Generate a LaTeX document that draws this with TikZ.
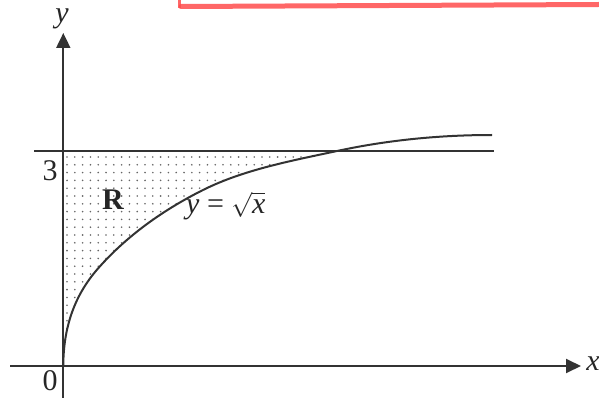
\documentclass[tikz,border=0pt]{standalone}
\usepackage{fontspec}
\setmainfont{Liberation Serif}
\usetikzlibrary{arrows.meta}
\begin{document}
\begin{tikzpicture}[x=1pt,y=-1pt,
  ink/.style={draw=black!80,line width=1.9pt},
  lbl/.style={font=\fontsize{30}{36}\selectfont,inner sep=0pt,text=black!85},
  axisarrow/.style={-{Triangle[length=15pt,width=14pt]}}]
\def\curvepath{(63.3,366) .. controls (63.3,321) and (78.7,291) .. (96.7,270)
  .. controls (125.7,236.5) and (163,210) .. (203,190)
  .. controls (244,169.5) and (292,160.7) .. (337,151)
  .. controls (388,140) and (440,135) .. (492,135)}
\useasboundingbox (0,0) rectangle (599,398);
% red scan stroke
\draw[line width=5pt,draw=red!70!white,opacity=0.85,line cap=round] (181,6.5) -- (599,4.5);
\draw[line width=2.5pt,draw=red!70!white,opacity=0.85] (179.5,0) -- (179.5,8);
% shaded region R
\begin{scope}
  \clip (63.3,150.7) rectangle (337,366);
  \clip \curvepath -- (492,100) -- (63.3,100) -- cycle;
  \foreach \i in {0,...,36} {
    \foreach \j in {0,...,28} {
      \fill[black!60] (67+\i*7.8,157+\j*7.8) circle (0.9pt);
    }
  }
\end{scope}
% axes
\draw[ink,axisarrow] (10,366) -- (581,366) coordinate (xend);
\draw[ink,axisarrow] (63.3,398) -- (63.3,33) coordinate (yend);
% line y = 3
\draw[ink] (34,150.7) -- (494,150.7);
% curve
\draw[ink,line width=2pt] \curvepath;
% labels
\node[lbl] (ylab) at (62,19) {\itshape y};
\node[lbl] (xlab) at (593,364) {\itshape x};
\node[lbl] (three) at (50,171) {3};
\node[lbl] (zero) at (50,381) {0};
\node[lbl] (rlab) at (113,200) {\bfseries R};
\node[lbl,anchor=base west] (eq) at (186,213) {\itshape y\normalfont\ =\ $\sqrt{\mbox{\itshape x}}$};
\end{tikzpicture}
\end{document}
